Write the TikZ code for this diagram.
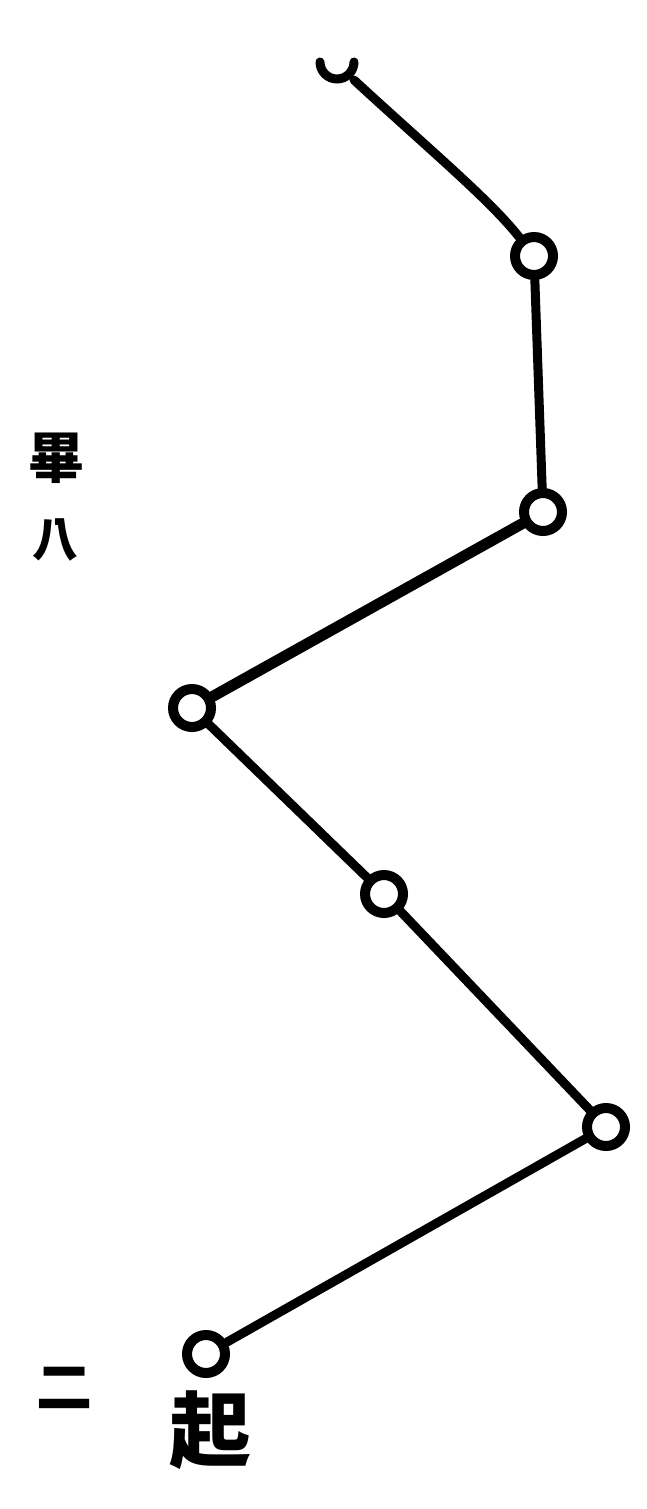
\documentclass[tikz,border=0pt]{standalone}
\usepackage{fontspec}
\newfontfamily\cjk{Noto Sans CJK TC}
\begin{document}
\begin{tikzpicture}[x=1pt,y=-1pt,
  star/.style={circle,draw=black,line width=10pt,minimum size=38pt,inner sep=0pt,fill=white},
  link/.style={line width=9pt,line cap=round},
  lab/.style={font=\cjk\bfseries\fontsize{56}{56}\selectfont,inner sep=0pt}]
\useasboundingbox (0,0) rectangle (647,1509);
\coordinate (t) at (337,62);
\coordinate (tend) at (354,80);
\node[star] (c2) at (534,256) {};
\node[star] (c3) at (543,512) {};
\node[star] (c4) at (192,708) {};
\node[star] (c5) at (384,894) {};
\node[star] (c6) at (606,1127) {};
\node[star] (c7) at (206,1354) {};
\draw[line width=9pt,line cap=round] (320,62) arc[start angle=180,end angle=0,radius=17];
\draw[link] (tend) .. controls (430,150) and (490,200) .. (c2);
\draw[link] (c2) -- (c3);
\draw[link,line width=11pt] (c3) -- (c4);
\draw[link] (c4) -- (c5);
\draw[link] (c5) -- (c6);
\draw[link] (c6) -- (c7);
\node[lab] (n1) at (56,458) {畢};
\node[lab,font=\cjk\bfseries\fontsize{46}{46}\selectfont] (n2) at (55,540) {八};
\node[lab] (n3) at (64,1388) {二};
\node[lab,font=\cjk\bfseries\fontsize{82}{82}\selectfont] (n4) at (210,1430) {起};
\end{tikzpicture}
\end{document}
